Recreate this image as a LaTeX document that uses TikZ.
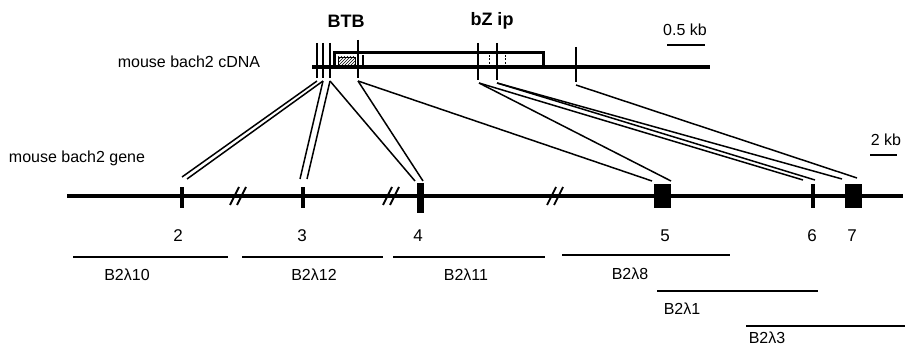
\documentclass[tikz,border=0pt]{standalone}
\usepackage{fontspec}
\setmainfont{Liberation Sans}
\usetikzlibrary{patterns}
\begin{document}
\begin{tikzpicture}[x=1pt,y=-1pt,
  cdnal/.style={line width=4pt},
  genel/.style={line width=3.2pt},
  tickl/.style={line width=2.4pt},
  conn/.style={line width=1.5pt},
  clone/.style={line width=1.3pt},
  scalebar/.style={line width=1.6pt},
  exon/.style={fill=black,draw=none,inner sep=0pt,outer sep=0pt},
  lbl/.style={font=\fontsize{16}{18}\selectfont,inner sep=0pt},
  numlbl/.style={font=\fontsize{17}{19}\selectfont,inner sep=0pt},
  blbl/.style={font=\fontsize{18}{20}\selectfont\bfseries,inner sep=0pt},
  brk/.style={line width=1.8pt}]
\useasboundingbox (0,0) rectangle (912,347);
\fill[white] (0,0) rectangle (912,347);

% ---- cDNA ----
\node[lbl] (cdnalabel) at (189,62) {mouse bach2 cDNA};
\node[blbl] (btb) at (346,21) {BTB};
\node[blbl] (bzip) at (492,21) {bZ ip};
\node[lbl] (halfkb) at (685,30) {0.5 kb};
\draw[scalebar] (667,45) -- (705,45);

\draw[cdnal] (312,67) -- (710,67);
\draw[line width=3pt] (334.5,52.5) rectangle (543,67);
\draw[line width=0.6pt,pattern=north east lines] (338,57) rectangle (355,65);
\draw[line width=1.4pt] (363,55) -- (363,65);
\draw[line width=1pt,dash pattern=on 2pt off 1.5pt] (489,55) -- (489,66);
\draw[line width=1pt,dash pattern=on 2pt off 1.5pt] (505,55) -- (505,66);

\draw[tickl] (317,43) -- (317,78);
\draw[tickl] (323,43) -- (323,78);
\draw[tickl] (330,43) -- (330,78);
\draw[tickl] (358,40) -- (358,78);
\draw[tickl] (478,43) -- (478,80);
\draw[tickl] (497,43) -- (497,80);
\draw[tickl] (576,47) -- (576,82);

\coordinate (c1) at (317,81);
\coordinate (c2) at (323,81);
\coordinate (c3) at (330,81);
\coordinate (c4) at (358,81);
\coordinate (c5) at (479,83);
\coordinate (c6) at (497,83);
\coordinate (c7) at (576,85);

% ---- gene ----
\node[lbl] (genelabel) at (77,158) {mouse bach2 gene};
\node[lbl] (twokb) at (886,140) {2 kb};
\draw[scalebar] (870,155) -- (897,155);

\draw[genel] (67,196) -- (903,196);

\node[exon,minimum width=3.2pt,minimum height=21pt] (e2) at (182,197.5) {};
\node[exon,minimum width=3.2pt,minimum height=21pt] (e3) at (303,197.5) {};
\node[exon,minimum width=7pt,minimum height=30pt] (e4) at (420.5,198) {};
\node[exon,minimum width=17pt,minimum height=24pt] (e5) at (662.5,196) {};
\node[exon,minimum width=3.6pt,minimum height=24pt] (e6) at (813,196) {};
\node[exon,minimum width=17pt,minimum height=24pt] (e7) at (853.5,196) {};

% breaks
\foreach \c in {238,391,555}{
  \draw[brk] (\c-8,205) -- (\c+1,187);
  \draw[brk] (\c-1,205) -- (\c+8,187);
}

\coordinate (g2a) at (182,177);
\coordinate (g2b) at (187,179);
\coordinate (g3a) at (300,179);
\coordinate (g3b) at (307,179);
\coordinate (g4a) at (415,181);
\coordinate (g4b) at (423,181);
\coordinate (g5a) at (652,181);
\coordinate (g5b) at (671,181);
\coordinate (g6a) at (803,180);
\coordinate (g6b) at (815,180);
\coordinate (g7a) at (842,179);
\coordinate (g7b) at (857,178);

\draw[conn] (c1) -- (g2a);
\draw[conn] (c2) -- (g2b);
\draw[conn] (c2) -- (g3a);
\draw[conn] (c3) -- (g3b);
\draw[conn] (c3) -- (g4a);
\draw[conn] (c4) -- (g4b);
\draw[conn] (c4) -- (g5a);
\draw[conn] (c5) -- (g5b);
\draw[conn] (c5) -- (g6a);
\draw[conn] (c6) -- (g6b);
\draw[conn] (c6) -- (g7a);
\draw[conn] (c7) -- (g7b);

% exon numbers
\node[numlbl] (n2) at (178,236) {2};
\node[numlbl] (n3) at (302,236) {3};
\node[numlbl] (n4) at (418,236) {4};
\node[numlbl] (n5) at (665,236) {5};
\node[numlbl] (n6) at (812,236) {6};
\node[numlbl] (n7) at (852,236) {7};

% clones
\draw[clone] (73,257) -- (228,257);
\node[lbl] (k10) at (127,275) {B2λ10};
\draw[clone] (242,257) -- (383,257);
\node[lbl] (k12) at (314,275) {B2λ12};
\draw[clone] (393,257) -- (545,257);
\node[lbl] (k11) at (466,275) {B2λ11};
\draw[clone] (562,255) -- (730,255);
\node[lbl] (k8) at (630,274) {B2λ8};
\draw[clone] (657,291) -- (818,291);
\node[lbl] (k1) at (682,309) {B2λ1};
\draw[clone] (746,326) -- (905,326);
\node[lbl] (k3) at (767,338) {B2λ3};
\end{tikzpicture}
\end{document}
